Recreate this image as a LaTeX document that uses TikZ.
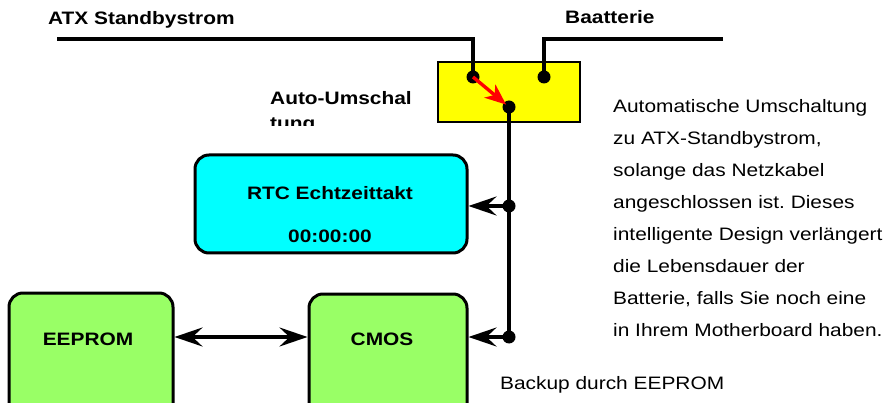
\documentclass[tikz,border=0pt]{standalone}
\usepackage{fontspec}
\setmainfont{Liberation Sans}[FakeStretch=1.16]
\usetikzlibrary{arrows.meta,calc}
\definecolor{rtccyan}{HTML}{00FFFF}
\definecolor{boxgreen}{HTML}{99FF66}
\definecolor{switchyellow}{HTML}{FFFF00}
\frenchspacing
\begin{document}
\begin{tikzpicture}[x=1pt,y=-1pt,
  wire/.style={line width=3.2pt},
  dotn/.style={circle,fill=black,inner sep=0pt,minimum size=13pt},
  roundbox/.style={draw=black,line width=3pt,rounded corners=14pt,inner sep=0pt},
  lbl/.style={inner sep=0pt,font=\fontsize{18}{22}\selectfont\bfseries},
  txt/.style={inner sep=0pt,font=\fontsize{18}{32}\selectfont},
  arr/.style={wire,-{Stealth[length=28pt,width=19pt,inset=10pt]}},
]
\clip (0,0) rectangle (891,403);
\fill[white] (0,0) rectangle (891,403);

% switch box
\node[draw=black,line width=2.4pt,fill=switchyellow,minimum width=142pt,minimum height=60pt,inner sep=0pt] (sw) at (509,92) {};
\node[dotn] (d1) at (473,77) {};
\node[dotn] (d2) at (544,77) {};
\node[dotn] (d3) at (509,107) {};
\coordinate (atxstart) at (57,39);
\coordinate (batend) at (723,39);
\draw[wire] (atxstart) -| (d1.center);
\draw[wire] (batend) -| (d2.center);
\draw[red,line width=3.4pt,-{Stealth[length=21pt,width=17pt,inset=6pt]}] (d1.center) -- ($(d1.center)!0.92!(d3.center)$);

% boxes
\node[roundbox,fill=rtccyan,minimum width=272pt,minimum height=98pt] (rtc) at (331,204) {};
\node[roundbox,fill=boxgreen,minimum width=158pt,minimum height=126pt] (cmos) at (388,357) {};
\node[roundbox,fill=boxgreen,minimum width=164pt,minimum height=127pt] (eeprom) at (91,356.5) {};

\node[lbl] (rtct) at (330,193) {RTC Echtzeittakt};
\node[lbl] (rtctime) at (330,236) {00:00:00};
\node[lbl] (cmost) at (382,339) {CMOS};
\node[lbl] (eepromt) at (88,339) {EEPROM};

% bus
\node[dotn] (j1) at (509,206) {};
\node[dotn] (j2) at (509,337) {};
\draw[wire] (d3.center) -- (j2.center);
\draw[arr] (j1.center) -- (j1.center -| rtc.east);
\draw[arr] (j2.center) -- (j2.center -| cmos.east);
\draw[wire,{Stealth[length=28pt,width=19pt,inset=10pt]}-{Stealth[length=28pt,width=19pt,inset=10pt]}] (eeprom.east |- j2.center) -- (cmos.west |- j2.center);

% labels
\node[lbl,anchor=base west] (atxl) at (48,25) {ATX Standbystrom};
\node[lbl,anchor=base west] (batl) at (565,24) {Baatterie};
\node[lbl,anchor=base west] (autol) at (270,105) {Auto-Umschal};
\begin{scope}
  \clip (260,108) rectangle (430,126);
  \node[lbl,anchor=base west] (autol2) at (270,130) {tung};
\end{scope}

\node[txt,anchor=north west,align=left] (desc) at (613,99) {Automatische Umschaltung\\zu ATX-Standbystrom,\\solange das Netzkabel\\angeschlossen ist. Dieses\\intelligente Design verlängert\\die Lebensdauer der\\Batterie, falls Sie noch eine\\in Ihrem Motherboard haben.};
\node[txt,anchor=base west] (backup) at (500,389) {Backup durch EEPROM};
\end{tikzpicture}
\end{document}
